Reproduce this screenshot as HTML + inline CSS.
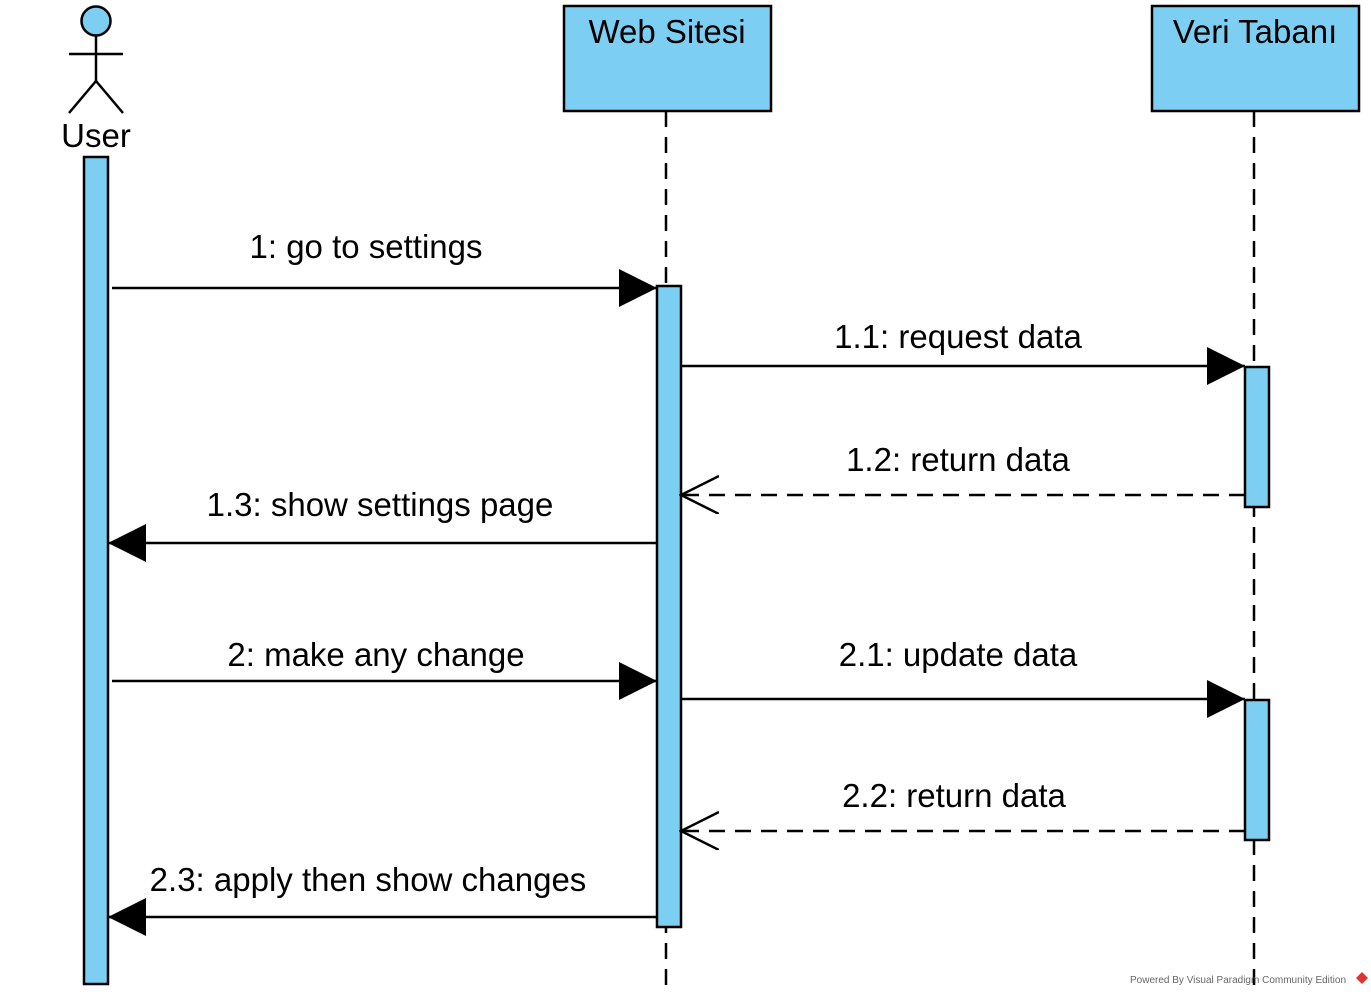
<!DOCTYPE html>
<html><head><meta charset="utf-8"><style>
html,body{margin:0;padding:0;background:#fff;width:1371px;height:996px;overflow:hidden}
svg text{font-family:"Liberation Sans",Arial,sans-serif;fill:#000}
</style></head><body>
<svg width="1371" height="996" xmlns="http://www.w3.org/2000/svg">
<defs>
<marker id="f" markerWidth="40" markerHeight="40" refX="38" refY="19" orient="auto" markerUnits="userSpaceOnUse"><path d="M0,0 L38,19 L0,38 Z" fill="#000"/></marker>
<marker id="o" markerWidth="40" markerHeight="40" refX="38" refY="19" orient="auto" markerUnits="userSpaceOnUse"><path d="M0,0 L38,19 L0,38" fill="none" stroke="#000" stroke-width="2.5"/></marker>
</defs>
<circle cx="96" cy="21" r="14.5" fill="#7ccff2" stroke="#000" stroke-width="2.5"/>
<g stroke="#000" stroke-width="2.5" fill="none">
<line x1="96" y1="36" x2="96" y2="81"/><line x1="69" y1="54" x2="123" y2="54"/>
<line x1="96" y1="81" x2="69" y2="113"/><line x1="96" y1="81" x2="123" y2="113"/>
</g>
<text x="96" y="147" font-size="33" text-anchor="middle">User</text>
<g stroke="#000" stroke-width="2.5" stroke-dasharray="16,10">
<line x1="666" y1="111" x2="666" y2="990"/><line x1="1254" y1="111" x2="1254" y2="990"/>
</g>
<rect x="564" y="6" width="207" height="105" fill="#7ccff2" stroke="#000" stroke-width="2.5"/>
<text x="667" y="43" font-size="33" text-anchor="middle">Web Sitesi</text>
<rect x="1152" y="6" width="207" height="105" fill="#7ccff2" stroke="#000" stroke-width="2.5"/>
<text x="1255" y="43" font-size="33" text-anchor="middle">Veri Tabanı</text>
<g fill="#7ccff2" stroke="#000" stroke-width="2.5">
<rect x="84" y="157" width="24" height="827"/>
<rect x="657" y="286" width="24" height="641"/>
<rect x="1245" y="367" width="24" height="140"/>
<rect x="1245" y="700" width="24" height="140"/>
</g>
<g stroke="#000" stroke-width="2.5" fill="none">
<line x1="112" y1="288" x2="657" y2="288" marker-end="url(#f)"/>
<line x1="681" y1="366" x2="1245" y2="366" marker-end="url(#f)"/>
<line x1="1245" y1="495" x2="681" y2="495" stroke-dasharray="16,10" marker-end="url(#o)"/>
<line x1="657" y1="543" x2="108" y2="543" marker-end="url(#f)"/>
<line x1="112" y1="681" x2="657" y2="681" marker-end="url(#f)"/>
<line x1="681" y1="699" x2="1245" y2="699" marker-end="url(#f)"/>
<line x1="1245" y1="831" x2="681" y2="831" stroke-dasharray="16,10" marker-end="url(#o)"/>
<line x1="657" y1="917" x2="108" y2="917" marker-end="url(#f)"/>
</g>
<g font-size="33" text-anchor="middle">
<text x="366" y="258">1: go to settings</text>
<text x="958" y="348">1.1: request data</text>
<text x="958" y="471">1.2: return data</text>
<text x="380" y="516">1.3: show settings page</text>
<text x="376" y="666">2: make any change</text>
<text x="958" y="666">2.1: update data</text>
<text x="954" y="807">2.2: return data</text>
<text x="368" y="891">2.3: apply then show changes</text>
</g>
<text x="1130" y="983" font-size="10" style="fill:#666">Powered By Visual Paradigm Community Edition</text>
<path d="M1362,972 L1368,978 L1362,984 L1356,978 Z" fill="#d33"/>
</svg>
</body></html>
